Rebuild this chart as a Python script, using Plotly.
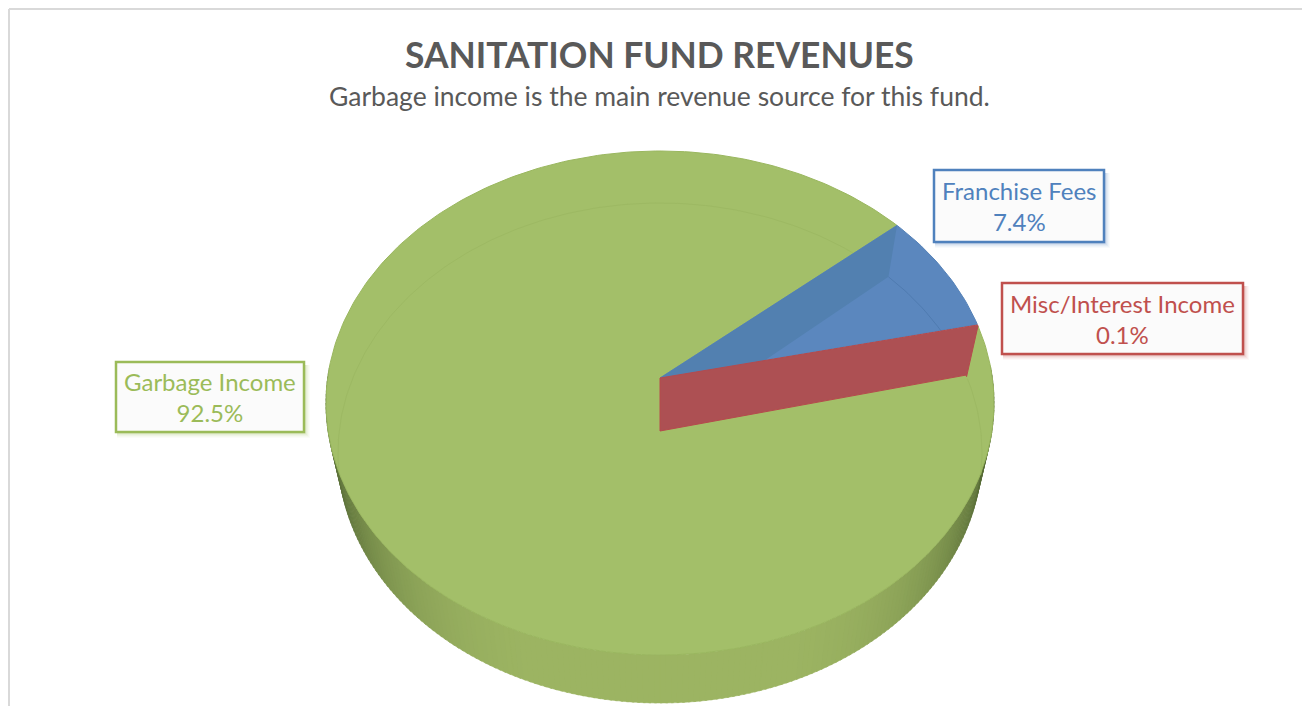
import math
import plotly.graph_objects as go

# ---- data ----
categories = ["Garbage Income", "Franchise Fees", "Misc/Interest Income"]
values = [92.5, 7.4, 0.1]
value_labels = ["92.5%", "7.4%", "0.1%"]
title_text = "SANITATION FUND REVENUES"
subtitle_text = "Garbage income is the main revenue source for this fund."

# ---- projection of the tilted disc, in axis units ----
TOP = dict(cx=660, cy=403, rx=334, ry=252)
BOT = dict(cx=660, cy=453, rx=322, ry=250)
APEX_TOP = (660, 378)
APEX_BOT = (660, 431)
ROTATION = 44.8  # angle where the Franchise slice starts (clockwise from there)


def rim(e, deg):
    a = math.radians(deg)
    return e["cx"] + e["rx"] * math.cos(a), e["cy"] - e["ry"] * math.sin(a)


def arc(e, a0, a1, step=1.0):
    n = max(2, int(abs(a1 - a0) / step) + 1)
    return [rim(e, a0 + (a1 - a0) * i / (n - 1)) for i in range(n)]


def lerp(c0, c1, t):
    return "rgb(%d,%d,%d)" % tuple(round(c0[i] + (c1[i] - c0[i]) * t) for i in range(3))


fig = go.Figure()


def poly(points, fill, line=None, width=0.0):
    xs = [p[0] for p in points] + [points[0][0]]
    ys = [p[1] for p in points] + [points[0][1]]
    fig.add_trace(go.Scatter(
        x=xs, y=ys, mode="lines", fill="toself", fillcolor=fill,
        line=dict(color=line or fill, width=width), hoverinfo="skip", showlegend=False))


def stroke(points, color, width=1.0):
    fig.add_trace(go.Scatter(
        x=[p[0] for p in points], y=[p[1] for p in points], mode="lines",
        line=dict(color=color, width=width), hoverinfo="skip", showlegend=False))


# slice angles derived from the values
deg_per_unit = 360.0 / sum(values)
fr_start = ROTATION
fr_end = fr_start - values[1] * deg_per_unit
misc_end = fr_end - values[2] * deg_per_unit

# outer wall, shaded from dark at the sides to lighter at the front
EDGE = (80, 100, 50)
FRONT = (156, 180, 98)
wall_step = 1
for d in range(172, 368, wall_step):
    mid = math.radians(d + wall_step / 2)
    s = min(1.0, abs(math.sin(mid)) / 0.92)
    t = s * s * (3 - 2 * s) * 0.55 + s * 0.45
    col = lerp(EDGE, FRONT, t)
    pts = arc(TOP, d, d + wall_step + 0.4) + arc(BOT, d + wall_step + 0.4, d)
    poly(pts, col, col, 0.5)

# top face: Garbage slice
GREEN = "#a3bf69"
poly([APEX_TOP] + arc(TOP, fr_start, fr_start + values[0] * deg_per_unit), GREEN, "#9ab75f", 1)

# faint far-rim line seen through the green face
FAINT = "#9db963"
stroke(arc(BOT, fr_start + 1, 184), FAINT, 1)
stroke(arc(BOT, -5, misc_end - 0.5), FAINT, 1)

# Franchise slice: roof, wall, floor line
BLUE = "#5b87be"
poly([APEX_TOP] + arc(TOP, fr_start, fr_end), BLUE, "#5582b8", 1)
poly([APEX_TOP, rim(TOP, fr_start), rim(BOT, fr_start), APEX_BOT], "#5280b0")
stroke(arc(BOT, fr_start, fr_end), "#4f7bb0", 1)

# Misc slice: a thin sliver, only its wall shows
RED = "#ad5053"
poly([APEX_TOP] + arc(TOP, fr_end, misc_end, 0.1) + arc(BOT, misc_end, fr_end, 0.1) + [APEX_BOT],
     RED, "#b54a4d", 1)

# ---- labels ----
BOXES = [
    (116, 362, 304, 432, "#9bbb59", 210),
    (934, 170, 1104, 242, "#4f81bd", 1019),
    (1002, 283, 1243, 354, "#c0504d", 1122),
]
shapes = []
annotations = []
for (x0, y0, x1, y1, col, xc), name, lab in zip(BOXES, categories, value_labels):
    for k, op in [(6, 0.04), (5, 0.05), (4, 0.07), (3, 0.09), (2, 0.12)]:
        shapes.append(dict(type="rect", xref="x", yref="y", x0=x0 + 1, y0=y0 + 3, x1=x1 + k, y1=y1 + k,
                           fillcolor=col, opacity=op, line_width=0))
    shapes.append(dict(type="rect", xref="x", yref="y", x0=x0, y0=y0, x1=x1, y1=y1,
                       fillcolor="#fbfbfb", line=dict(color=col, width=2.5)))
    annotations.append(dict(x=xc, y=(y0 + y1) / 2, xref="x", yref="y", showarrow=False,
                            text=name + "<br>" + lab, align="center",
                            font=dict(family="Lato", size=24, color=col)))

# ---- frame ----
FRAME = "#d9d9d9"
shapes.append(dict(type="line", xref="x", yref="y", x0=9, y0=9, x1=1318, y1=9, line=dict(color=FRAME, width=2)))
shapes.append(dict(type="line", xref="x", yref="y", x0=9, y0=9, x1=9, y1=714, line=dict(color=FRAME, width=2)))

annotations.append(dict(x=659, y=54, xref="x", yref="y", showarrow=False, text="<b>" + title_text + "</b>",
                        font=dict(family="Lato", size=35.4, color="#595959")))
annotations.append(dict(x=659, y=96, xref="x", yref="y", showarrow=False, text=subtitle_text,
                        font=dict(family="Lato", size=26.5, color="#595959")))

# the page puts the figure 8 px in from the corner, so the axes start at 8
fig.update_layout(
    width=1310, height=706, margin=dict(l=0, r=0, t=0, b=0),
    paper_bgcolor="white", plot_bgcolor="white", showlegend=False,
    xaxis=dict(range=[8, 1318], visible=False, fixedrange=True),
    yaxis=dict(range=[714, 8], visible=False, fixedrange=True),
    shapes=shapes, annotations=annotations,
)
fig.write_html("out.html")
